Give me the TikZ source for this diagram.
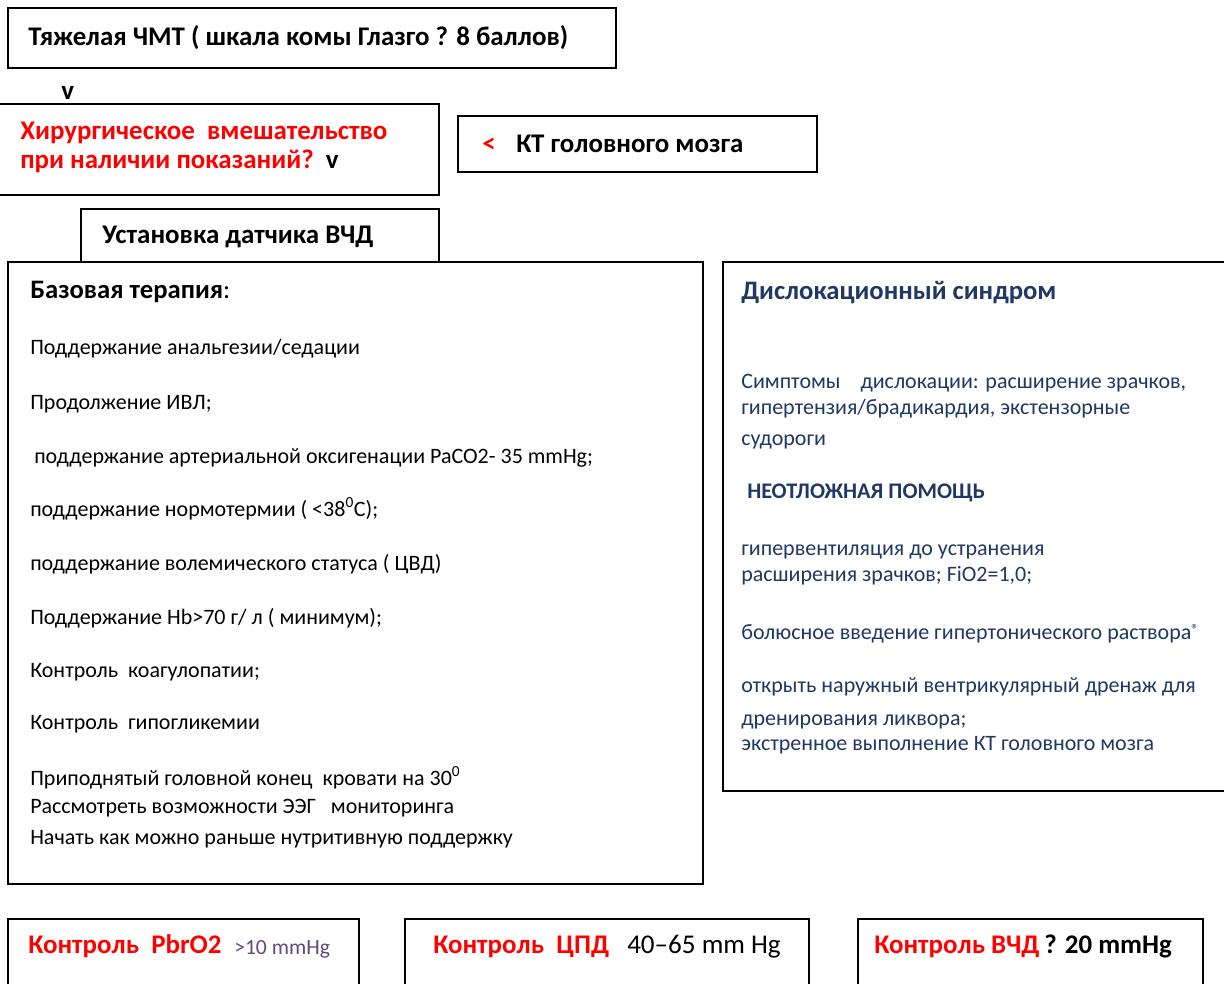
\documentclass[tikz,border=0pt]{standalone}
\usepackage{fontspec}
\setmainfont{Carlito}
\definecolor{redc}{HTML}{FF0000}
\definecolor{navy}{HTML}{1F3864}
\definecolor{purp}{HTML}{604A7B}
\begin{document}
\begin{tikzpicture}[x=0.75pt,y=-0.75pt,
  box/.style={draw=black,line width=1.5pt},
  lbl/.style={anchor=mid west,inner sep=0pt,yshift=-3pt},
  hb/.style={lbl,font=\bfseries\fontsize{20.2}{24}\selectfont},
  body/.style={lbl,font=\fontsize{16.5}{20}\selectfont},
  dbody/.style={lbl,text=navy,font=\fontsize{16.5}{20}\selectfont},
  ]
\useasboundingbox (0,0) rectangle (1224,983);
\clip (0,0) rectangle (1224,983);
\fill[white] (0,0) rectangle (1224,983);
% boxes
\draw[box] (8,8) rectangle (616,68);
\draw[box] (-5,104) rectangle (439,195);
\draw[box] (458,116) rectangle (817,172);
\draw[box] (81,209) rectangle (439,262);
\draw[box] (8,262) rectangle (703,884);
\draw[box] (723,262) rectangle (1240,791);
\draw[box] (8,919) rectangle (359,1000);
\draw[box] (405,919) rectangle (809,1000);
\draw[box] (858,919) rectangle (1203,1000);
% top texts
\node[hb] (t1) at (28,38) {Тяжелая ЧМТ ( шкала комы Глазго ? 8 баллов)};
\node[hb] (v1) at (61,92) {v};
\node[hb,text=redc] (t2a) at (20,132) {Хирургическое\ \ вмешательство};
\node[hb] (t2b) at (20,161) {\textcolor{redc}{при наличии показаний?}\ \ v};
\node[hb,text=redc] (lt) at (482,145) {<};
\node[hb] (t3) at (516,145) {КТ головного мозга};
\node[hb] (t4) at (102,236) {Установка датчика ВЧД};
% base therapy
\node[lbl,font=\bfseries\fontsize{20}{24}\selectfont] (b0) at (30,291) {Базовая терапия\textmd{:}};
\node[body] (b1) at (30,347) {Поддержание анальгезии/седации};
\node[body] (b2) at (30,402) {Продолжение ИВЛ;};
\node[body] (b3) at (34,456) {поддержание артериальной оксигенации PaCO2- 35 mmHg;};
\node[body] (b4) at (30,509) {поддержание нормотермии ( <38\textsuperscript{0}C);};
\node[body] (b5) at (30,563) {поддержание волемического статуса ( ЦВД)};
\node[body] (b6) at (30,617) {Поддержание Hb>70 г/ л ( минимум);};
\node[body] (b7) at (30,670) {Контроль\ \ коагулопатии;};
\node[body] (b8) at (30,722) {Контроль\ \ гипогликемии};
\node[body] (b9) at (30,778) {Приподнятый головной конец\ \ кровати на 30\textsuperscript{0}};
\node[body] (b10) at (30,806) {Рассмотреть возможности ЭЭГ\ \ \ мониторинга};
\node[body] (b11) at (30,837) {Начать как можно раньше нутритивную поддержку};
% dislocation
\node[lbl,text=navy,font=\bfseries\fontsize{20}{24}\selectfont] (d0) at (741,292) {Дислокационный синдром};
\node[dbody] (d1) at (741,381) {Симптомы\ \ \ \ дислокации: расширение зрачков,};
\node[dbody] (d2) at (741,407) {гипертензия/брадикардия, экстензорные};
\node[dbody] (d3) at (741,438) {судороги};
\node[lbl,text=navy,font=\bfseries\fontsize{16.7}{20}\selectfont] (d4) at (747,491) {НЕОТЛОЖНАЯ ПОМОЩЬ};
\node[dbody] (d5) at (741,548) {гипервентиляция до устранения};
\node[dbody] (d6) at (741,574) {расширения зрачков; FiO2=1,0;};
\node[dbody] (d7) at (741,632) {болюсное введение гипертонического раствора{\fontsize{11}{12}\selectfont\raisebox{0.6ex}{®}}};
\node[dbody] (d8) at (741,685) {открыть наружный вентрикулярный дренаж для};
\node[dbody] (d9) at (741,718) {дренирования ликвора;};
\node[dbody] (d10) at (741,743) {экстренное выполнение КТ головного мозга};
% bottom
\node[hb,text=redc] (c1) at (28,946) {Контроль\ \ PbrO2};
\node[lbl,text=purp,font=\fontsize{16.2}{20}\selectfont] (c1v) at (234,947) {>10 mmHg};
\node[hb,text=redc] (c2) at (433,946) {Контроль\ \ ЦПД};
\node[lbl,font=\fontsize{20.3}{24}\selectfont] (c2v) at (627,946) {40–65 mm Hg};
\node[hb,text=redc] (c3) at (874,946) {Контроль ВЧД};
\node[hb] (c3v) at (1044,946) {? 20 mmHg};
\end{tikzpicture}
\end{document}
